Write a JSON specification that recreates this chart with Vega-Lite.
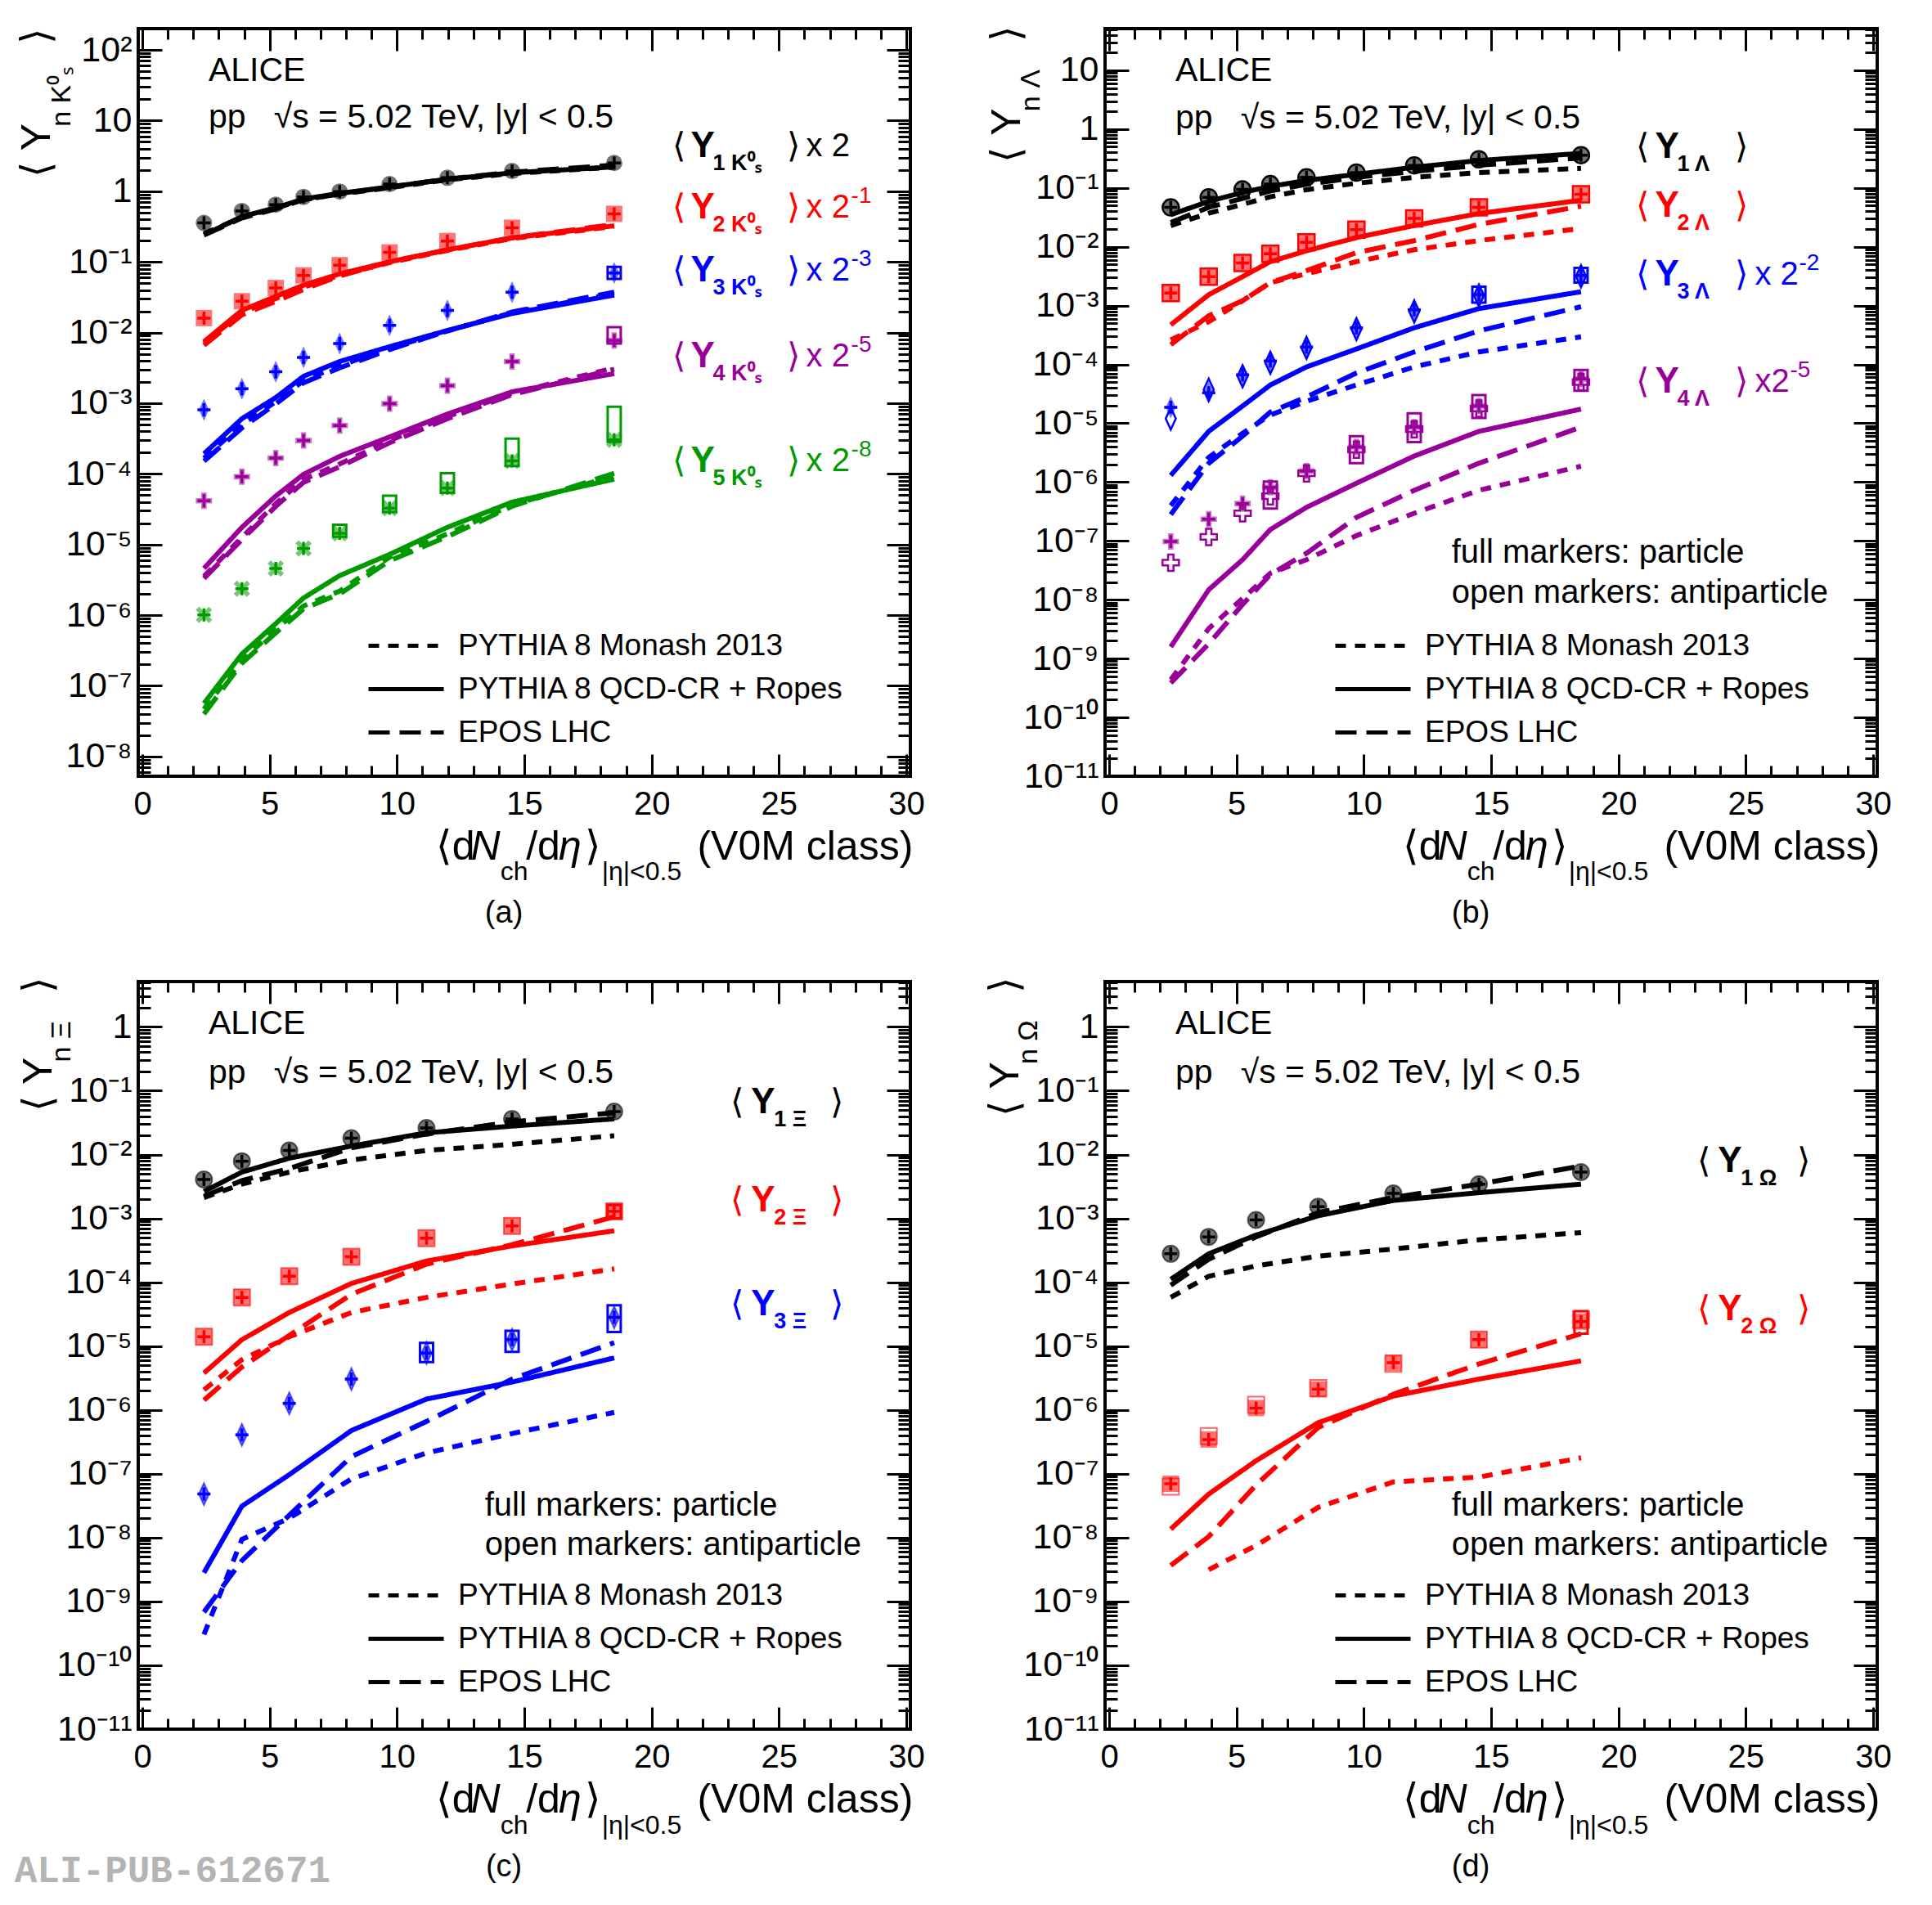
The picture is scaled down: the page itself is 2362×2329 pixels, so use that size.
{
"$schema":"https://vega.github.io/schema/vega-lite/v6.json",
"background":"white",
"padding":{"left":15,"top":12,"right":10,"bottom":16},
"config":{"font":"Liberation Sans","view":{"stroke":"black","strokeWidth":4},
 "axis":{"domain":false,"grid":false,"tickColor":"black","tickWidth":3,"labelColor":"black","labelFont":"Liberation Sans","labelFlush":false,"labelOverlap":false,"labelBound":false},
 "legend":{"labelFont":"Liberation Sans","labelLimit":1000},
 "text":{"color":"black","font":"Liberation Sans"}},
"datasets":{
"A":[
{"n":1,"x":2.42,"d":0.355,"mon":0.251,"cr":0.24,"epos":0.24},
{"n":1,"x":3.91,"d":0.525,"mon":0.427,"cr":0.437,"epos":0.417},
{"n":1,"x":5.24,"d":0.646,"mon":0.575,"cr":0.582,"epos":0.562},
{"n":1,"x":6.33,"d":0.832,"mon":0.759,"cr":0.776,"epos":0.759},
{"n":1,"x":7.75,"d":0.99,"mon":0.912,"cr":0.933,"epos":0.912},
{"n":1,"x":9.71,"d":1.26,"mon":1.12,"cr":1.15,"epos":1.15},
{"n":1,"x":11.98,"d":1.55,"mon":1.45,"cr":1.48,"epos":1.48},
{"n":1,"x":14.52,"d":1.93,"mon":1.78,"cr":1.82,"epos":1.86},
{"n":1,"x":18.53,"d":2.51,"mon":2.19,"cr":2.21,"epos":2.34},
{"n":2,"x":2.42,"d":0.016,"mon":0.00708,"cr":0.00741,"epos":0.00661},
{"n":2,"x":3.91,"d":0.0277,"mon":0.0191,"cr":0.0206,"epos":0.0178},
{"n":2,"x":5.24,"d":0.0427,"mon":0.0302,"cr":0.0324,"epos":0.0275},
{"n":2,"x":6.33,"d":0.0644,"mon":0.0437,"cr":0.0468,"epos":0.0407},
{"n":2,"x":7.75,"d":0.0899,"mon":0.0646,"cr":0.0676,"epos":0.0631},
{"n":2,"x":9.71,"d":0.136,"mon":0.0977,"cr":0.1,"epos":0.1},
{"n":2,"x":11.98,"d":0.197,"mon":0.145,"cr":0.148,"epos":0.148},
{"n":2,"x":14.52,"d":0.304,"mon":0.214,"cr":0.219,"epos":0.219},
{"n":2,"x":18.53,"d":0.478,"mon":0.316,"cr":0.324,"epos":0.339},
{"n":3,"x":2.42,"d":8.05e-4,"mon":1.66e-4,"cr":1.92e-4,"epos":1.51e-4},
{"n":3,"x":3.91,"d":1.6e-3,"mon":5.01e-4,"cr":6.03e-4,"epos":4.47e-4},
{"n":3,"x":5.24,"d":2.78e-3,"mon":1.05e-3,"cr":1.2e-3,"epos":9.77e-4},
{"n":3,"x":6.33,"d":4.45e-3,"mon":2.09e-3,"cr":2.4e-3,"epos":1.95e-3},
{"n":3,"x":7.75,"d":7.0e-3,"mon":3.39e-3,"cr":3.89e-3,"epos":3.16e-3},
{"n":3,"x":9.71,"d":1.26e-2,"mon":6.03e-3,"cr":6.31e-3,"epos":5.75e-3},
{"n":3,"x":11.98,"d":2.06e-2,"mon":1.05e-2,"cr":1.07e-2,"epos":1.05e-2},
{"n":3,"x":14.52,"d":3.72e-2,"mon":1.91e-2,"cr":1.86e-2,"epos":1.95e-2},
{"n":3,"x":18.53,"d":6.97e-2,"mon":3.55e-2,"cr":3.39e-2,"epos":3.72e-2,"lo":5.75e-2,"hi":8.51e-2},
{"n":4,"x":2.42,"d":4.15e-5,"mon":3.55e-6,"cr":4.59e-6,"epos":3.31e-6},
{"n":4,"x":3.91,"d":9.1e-5,"mon":1.26e-5,"cr":1.75e-5,"epos":1.17e-5},
{"n":4,"x":5.24,"d":1.67e-4,"mon":3.8e-5,"cr":4.85e-5,"epos":3.47e-5},
{"n":4,"x":6.33,"d":2.96e-4,"mon":8.32e-5,"cr":9.84e-5,"epos":7.59e-5},
{"n":4,"x":7.75,"d":4.83e-4,"mon":1.38e-4,"cr":1.77e-4,"epos":1.26e-4},
{"n":4,"x":9.71,"d":9.82e-4,"mon":2.95e-4,"cr":3.33e-4,"epos":2.75e-4},
{"n":4,"x":11.98,"d":1.77e-3,"mon":6.46e-4,"cr":7.02e-4,"epos":6.03e-4},
{"n":4,"x":14.52,"d":3.88e-3,"mon":1.38e-3,"cr":1.45e-3,"epos":1.32e-3},
{"n":4,"x":18.53,"d":7.71e-3,"mon":3.16e-3,"cr":2.62e-3,"epos":3.02e-3,"lo":7.0e-3,"hi":1.19e-2},
{"n":5,"x":2.42,"d":1.01e-6,"mon":4.68e-8,"cr":5.64e-8,"epos":3.98e-8},
{"n":5,"x":3.91,"d":2.36e-6,"mon":2.29e-7,"cr":2.82e-7,"epos":2.09e-7},
{"n":5,"x":5.24,"d":4.59e-6,"mon":6.31e-7,"cr":7.59e-7,"epos":5.62e-7},
{"n":5,"x":6.33,"d":8.79e-6,"mon":1.35e-6,"cr":1.75e-6,"epos":1.23e-6},
{"n":5,"x":7.75,"d":1.44e-5,"mon":2.19e-6,"cr":3.63e-6,"epos":2.0e-6,"lo":1.29e-5,"hi":1.91e-5},
{"n":5,"x":9.71,"d":3.27e-5,"mon":6.61e-6,"cr":7.24e-6,"epos":5.89e-6,"lo":2.88e-5,"hi":4.9e-5},
{"n":5,"x":11.98,"d":6.27e-5,"mon":1.41e-5,"cr":1.75e-5,"epos":1.29e-5,"lo":5.37e-5,"hi":1.02e-4},
{"n":5,"x":14.52,"d":1.52e-4,"mon":3.63e-5,"cr":3.98e-5,"epos":3.47e-5,"lo":1.29e-4,"hi":3.16e-4},
{"n":5,"x":18.53,"d":3.02e-4,"mon":9.33e-5,"cr":8.41e-5,"epos":1.02e-4,"lo":2.84e-4,"hi":8.91e-4}],
"B":[
{"n":1,"x":2.42,"d":0.0466,"a":0.0466,"mon":0.0229,"cr":0.0351,"epos":0.0258},
{"n":1,"x":3.91,"d":0.0693,"a":0.0693,"mon":0.0372,"cr":0.0589,"epos":0.0468},
{"n":1,"x":5.24,"d":0.0942,"a":0.0942,"mon":0.0525,"cr":0.0838,"epos":0.0661},
{"n":1,"x":6.33,"d":0.116,"a":0.116,"mon":0.0708,"cr":0.106,"epos":0.0891},
{"n":1,"x":7.75,"d":0.151,"a":0.151,"mon":0.0933,"cr":0.134,"epos":0.115},
{"n":1,"x":9.71,"d":0.182,"a":0.182,"mon":0.12,"cr":0.17,"epos":0.151},
{"n":1,"x":11.98,"d":0.242,"a":0.242,"mon":0.151,"cr":0.225,"epos":0.191},
{"n":1,"x":14.52,"d":0.306,"a":0.306,"mon":0.182,"cr":0.292,"epos":0.242},
{"n":1,"x":18.53,"d":0.361,"a":0.361,"mon":0.215,"cr":0.387,"epos":0.324},
{"n":2,"x":2.42,"d":1.64e-3,"a":1.64e-3,"mon":2.61e-4,"cr":4.71e-4,"epos":2.16e-4},
{"n":2,"x":3.91,"d":3.1e-3,"a":3.1e-3,"mon":5.3e-4,"cr":1.53e-3,"epos":6.7e-4},
{"n":2,"x":5.24,"d":5.32e-3,"a":5.32e-3,"mon":1.21e-3,"cr":3.1e-3,"epos":1.21e-3},
{"n":2,"x":6.33,"d":7.59e-3,"a":7.59e-3,"mon":2.45e-3,"cr":5.58e-3,"epos":2.45e-3},
{"n":2,"x":7.75,"d":1.19e-2,"a":1.19e-2,"mon":3.48e-3,"cr":8.53e-3,"epos":3.92e-3},
{"n":2,"x":9.71,"d":1.95e-2,"a":1.95e-2,"mon":5.58e-3,"cr":1.43e-2,"epos":7.94e-3},
{"n":2,"x":11.98,"d":3.04e-2,"a":3.04e-2,"mon":8.93e-3,"cr":2.29e-2,"epos":1.27e-2},
{"n":2,"x":14.52,"d":4.66e-2,"a":4.66e-2,"mon":1.27e-2,"cr":3.67e-2,"epos":2.4e-2},
{"n":2,"x":18.53,"d":7.82e-2,"a":7.82e-2,"mon":2.04e-2,"cr":6.17e-2,"epos":4.9e-2},
{"n":3,"x":2.42,"d":1.86e-5,"a":1.2e-5,"mon":3.98e-7,"cr":1.3e-6,"epos":2.82e-7},
{"n":3,"x":3.91,"d":3.29e-5,"a":3.72e-5,"mon":2.63e-6,"cr":7.28e-6,"epos":2.09e-6},
{"n":3,"x":5.24,"d":6.67e-5,"a":6.31e-5,"mon":6.76e-6,"cr":1.96e-5,"epos":6.03e-6},
{"n":3,"x":6.33,"d":1.15e-4,"a":1.07e-4,"mon":1.38e-5,"cr":4.47e-5,"epos":1.55e-5},
{"n":3,"x":7.75,"d":1.97e-4,"a":1.91e-4,"mon":2.36e-5,"cr":9.06e-5,"epos":2.79e-5},
{"n":3,"x":9.71,"d":4.19e-4,"a":3.98e-4,"mon":4.47e-5,"cr":1.83e-4,"epos":7.14e-5},
{"n":3,"x":11.98,"d":8.47e-4,"a":7.94e-4,"mon":9.06e-5,"cr":4.19e-4,"epos":1.63e-4},
{"n":3,"x":14.52,"d":1.53e-3,"a":1.48e-3,"mon":1.63e-4,"cr":8.89e-4,"epos":3.72e-4,"lo":1.12e-3,"hi":2.09e-3},
{"n":3,"x":18.53,"d":3.24e-3,"a":3.16e-3,"mon":2.94e-4,"cr":1.72e-3,"epos":9.55e-4,"lo":2.45e-3,"hi":4.37e-3},
{"n":4,"x":2.42,"d":9.77e-8,"a":4.27e-8,"mon":4.37e-10,"cr":1.58e-9,"epos":3.85e-10},
{"n":4,"x":3.91,"d":2.34e-7,"a":1.17e-7,"mon":3.24e-9,"cr":1.48e-8,"epos":1.78e-9},
{"n":4,"x":5.24,"d":4.31e-7,"a":2.95e-7,"mon":1.05e-8,"cr":4.79e-8,"epos":8.32e-9},
{"n":4,"x":6.33,"d":8.13e-7,"a":5.75e-7,"mon":2.82e-8,"cr":1.56e-7,"epos":2.69e-8,"lo":3.55e-7,"hi":1.02e-6},
{"n":4,"x":7.75,"d":1.54e-6,"a":1.41e-6,"mon":4.79e-8,"cr":3.72e-7,"epos":6.17e-8},
{"n":4,"x":9.71,"d":3.94e-6,"a":3.55e-6,"mon":1.23e-7,"cr":9.55e-7,"epos":2.51e-7,"lo":2.09e-6,"hi":6.03e-6},
{"n":4,"x":11.98,"d":8.59e-6,"a":7.94e-6,"mon":2.95e-7,"cr":2.77e-6,"epos":7.24e-7,"lo":4.79e-6,"hi":1.48e-5},
{"n":4,"x":14.52,"d":1.96e-5,"a":1.78e-5,"mon":7.24e-7,"cr":7.28e-6,"epos":2.09e-6,"lo":1.23e-5,"hi":3.02e-5},
{"n":4,"x":18.53,"d":5.65e-5,"a":5.01e-5,"mon":1.86e-6,"cr":1.74e-5,"epos":8.59e-6,"lo":3.55e-5,"hi":8.04e-5}],
"C":[
{"n":1,"x":2.42,"d":4.08e-3,"a":4.08e-3,"mon":2.12e-3,"cr":2.64e-3,"epos":2.22e-3},
{"n":1,"x":3.91,"d":7.87e-3,"a":7.87e-3,"mon":3.44e-3,"cr":5.31e-3,"epos":3.91e-3},
{"n":1,"x":5.77,"d":1.16e-2,"a":1.16e-2,"mon":5.31e-3,"cr":8.77e-3,"epos":6.05e-3},
{"n":1,"x":8.21,"d":1.8e-2,"a":1.8e-2,"mon":8.22e-3,"cr":1.36e-2,"epos":1.27e-2},
{"n":1,"x":11.16,"d":2.61e-2,"a":2.61e-2,"mon":1.16e-2,"cr":2.19e-2,"epos":2.1e-2},
{"n":1,"x":14.52,"d":3.62e-2,"a":3.62e-2,"mon":1.45e-2,"cr":2.79e-2,"epos":3.25e-2},
{"n":1,"x":18.53,"d":4.71e-2,"a":4.71e-2,"mon":1.97e-2,"cr":3.62e-2,"epos":4.51e-2},
{"n":2,"x":2.42,"d":1.4e-5,"a":1.4e-5,"mon":2.06e-6,"cr":3.78e-6,"epos":1.42e-6},
{"n":2,"x":3.91,"d":5.79e-5,"a":5.79e-5,"mon":6.12e-6,"cr":1.26e-5,"epos":4.71e-6},
{"n":2,"x":5.77,"d":1.24e-4,"a":1.24e-4,"mon":1.4e-5,"cr":3.36e-5,"epos":1.47e-5},
{"n":2,"x":8.21,"d":2.5e-4,"a":2.5e-4,"mon":3.36e-5,"cr":9.57e-5,"epos":6.46e-5},
{"n":2,"x":11.16,"d":4.92e-4,"a":4.92e-4,"mon":5.79e-5,"cr":2.15e-4,"epos":1.92e-4},
{"n":2,"x":14.52,"d":7.62e-4,"a":7.62e-4,"mon":9.38e-5,"cr":3.71e-4,"epos":3.87e-4},
{"n":2,"x":18.53,"d":1.29e-3,"a":1.29e-3,"mon":1.62e-4,"cr":6.4e-4,"epos":1.06e-3,"lo":1.0e-3,"hi":1.62e-3},
{"n":3,"x":2.42,"d":4.81e-8,"a":4.81e-8,"mon":3.04e-10,"cr":2.82e-9,"epos":6.82e-10},
{"n":3,"x":3.91,"d":4.08e-7,"a":4.08e-7,"mon":9.37e-9,"cr":3.11e-8,"epos":4.37e-9},
{"n":3,"x":5.77,"d":1.27e-6,"a":1.27e-6,"mon":2.01e-8,"cr":9.68e-8,"epos":2.24e-8},
{"n":3,"x":8.21,"d":3.04e-6,"a":3.04e-6,"mon":8.3e-8,"cr":4.76e-7,"epos":1.86e-7},
{"n":3,"x":11.16,"d":7.78e-6,"a":7.78e-6,"mon":2.12e-7,"cr":1.48e-6,"epos":6.61e-7,"lo":5.62e-6,"hi":1.12e-5},
{"n":3,"x":14.52,"d":1.26e-5,"a":1.26e-5,"mon":4.27e-7,"cr":2.73e-6,"epos":3.04e-6,"lo":8.13e-6,"hi":1.74e-5},
{"n":3,"x":18.53,"d":2.82e-5,"a":2.82e-5,"mon":9.16e-7,"cr":6.53e-6,"epos":1.13e-5,"lo":1.66e-5,"hi":4.37e-5}],
"D":[
{"n":1,"x":2.42,"d":2.79e-4,"a":2.79e-4,"mon":5.79e-5,"cr":1.11e-4,"epos":8.97e-5},
{"n":1,"x":3.91,"d":5.14e-4,"a":5.14e-4,"mon":1.24e-4,"cr":2.79e-4,"epos":2.29e-4},
{"n":1,"x":5.77,"d":9.46e-4,"a":9.46e-4,"mon":1.8e-4,"cr":5.48e-4,"epos":5.14e-4},
{"n":1,"x":8.21,"d":1.53e-3,"a":1.53e-3,"mon":2.56e-4,"cr":1.1e-3,"epos":1.23e-3},
{"n":1,"x":11.16,"d":2.47e-3,"a":2.47e-3,"mon":3.32e-4,"cr":1.91e-3,"epos":2.12e-3},
{"n":1,"x":14.52,"d":3.44e-3,"a":3.44e-3,"mon":4.61e-4,"cr":2.53e-3,"epos":3.44e-3},
{"n":1,"x":18.53,"d":5.31e-3,"a":5.31e-3,"mon":5.98e-4,"cr":3.44e-3,"epos":6.61e-3},
{"n":2,"x":2.42,"d":6.98e-8,"a":6.3e-8,"mon":null,"cr":1.36e-8,"epos":3.66e-9},
{"n":2,"x":3.91,"d":3.44e-7,"a":3.9e-7,"mon":3.14e-9,"cr":4.81e-8,"epos":1.04e-8},
{"n":2,"x":5.77,"d":1.07e-6,"a":1.2e-6,"mon":7.53e-9,"cr":1.6e-7,"epos":6.68e-8},
{"n":2,"x":8.21,"d":2.1e-6,"a":2.2e-6,"mon":2.98e-8,"cr":6.32e-7,"epos":5.31e-7},
{"n":2,"x":11.16,"d":5.48e-6,"a":5.3e-6,"mon":7.45e-8,"cr":1.65e-6,"epos":1.76e-6},
{"n":2,"x":14.52,"d":1.26e-5,"a":1.26e-5,"mon":8.87e-8,"cr":3.04e-6,"epos":5.25e-6},
{"n":2,"x":18.53,"d":2.42e-5,"a":2.6e-5,"mon":1.78e-7,"cr":5.86e-6,"epos":1.56e-5,"lo":1.56e-5,"hi":3.51e-5}],
"LA":[
{"n":1,"y":4.3,"sub":"1  K⁰ₛ","mult":"x 2","sup":""},
{"n":2,"y":0.58,"sub":"2  K⁰ₛ","mult":"x 2","sup":"-1"},
{"n":3,"y":0.074,"sub":"3  K⁰ₛ","mult":"x 2","sup":"-3"},
{"n":4,"y":4.5e-3,"sub":"4  K⁰ₛ","mult":"x 2","sup":"-5"},
{"n":5,"y":1.5e-4,"sub":"5  K⁰ₛ","mult":"x 2","sup":"-8"}],
"LB":[
{"n":1,"y":0.49,"sub":"1 Λ","mult":"","sup":""},
{"n":2,"y":0.049,"sub":"2 Λ","mult":"","sup":""},
{"n":3,"y":3.3e-3,"sub":"3 Λ","mult":"x 2","sup":"-2"},
{"n":4,"y":5.0e-5,"sub":"4 Λ","mult":"x2","sup":"-5"}],
"LC":[
{"n":1,"y":0.065,"sub":"1 Ξ"},
{"n":2,"y":1.9e-3,"sub":"2 Ξ"},
{"n":3,"y":4.5e-5,"sub":"3 Ξ"}],
"LD":[
{"n":1,"y":7.9e-3,"sub":"1 Ω"},
{"n":2,"y":3.7e-5,"sub":"2 Ω"}],
"XT":[
{"t":"⟨d","x":11.52,"k":"m"},{"t":"N","x":12.9,"k":"i"},{"t":"ch","x":14.06,"k":"s"},{"t":"/d","x":15.07,"k":"m"},
{"t":"η","x":16.35,"k":"i"},{"t":"⟩","x":17.39,"k":"m"},{"t":"|η|<0.5","x":18.04,"k":"s"},{"t":"(V0M class)","x":21.79,"k":"m"}]
},
"columns":2,
"bounds":"flush",
"spacing":{"row":251,"column":238},
"resolve":{"scale":{"x":"independent","y":"independent","color":"independent","shape":"independent","strokeDash":"independent"},
 "legend":{"strokeDash":"independent","color":"independent","shape":"independent"},
 "axis":{"x":"independent","y":"independent"}},
"concat":[
{"width":944,"height":914,"resolve":{"axis":{"x":"independent","y":"independent"}},
 "layer":[
 {"data":{"name":"A"},"transform":[{"fold":["mon","cr","epos"],"as":["m","v"]}],"mark":{"type":"line","strokeWidth":6},
  "encoding":{"x":{"field":"x","type":"quantitative","scale":{"domain":[0,30],"nice":false,"zero":false},
    "axis":{"orient":"bottom","values":[0,1,2,3,4,5,6,7,8,9,10,11,12,13,14,15,16,17,18,19,20,21,22,23,24,25,26,27,28,29,30],"labelExpr":"datum.value % 5 == 0 ? format(datum.value, 'd') : ''","tickSize":{"condition":{"test":"datum.value % 5 == 0","value":-27},"value":-13},"labelFontSize":40,"labelPadding":41,"title":null}},
   "y":{"field":"v","type":"quantitative","scale":{"type":"log","domain":[5.25e-9,200],"nice":false},
    "axis":{"orient":"left","values":[6e-9,7e-9,8e-9,9e-9,1e-8,2e-8,3e-8,4e-8,5e-8,6e-8,7e-8,8e-8,9e-8,1e-7,2e-7,3e-7,4e-7,5e-7,6e-7,7e-7,8e-7,9e-7,1e-6,2e-6,3e-6,4e-6,5e-6,6e-6,7e-6,8e-6,9e-6,1e-5,2e-5,3e-5,4e-5,5e-5,6e-5,7e-5,8e-5,9e-5,1e-4,2e-4,3e-4,4e-4,5e-4,6e-4,7e-4,8e-4,9e-4,1e-3,2e-3,3e-3,4e-3,5e-3,6e-3,7e-3,8e-3,9e-3,1e-2,2e-2,3e-2,4e-2,5e-2,6e-2,7e-2,8e-2,9e-2,0.1,0.2,0.3,0.4,0.5,0.6,0.7,0.8,0.9,1,2,3,4,5,6,7,8,9,10,20,30,40,50,60,70,80,90,100],
     "labelExpr":"abs(log(datum.value)/LN10-round(log(datum.value)/LN10))>0.01 ? '' : round(log(datum.value)/LN10)==0 ? '1' : round(log(datum.value)/LN10)==1 ? '10' : '10'+(datum.value<1 ? '⁻' : '')+['⁰','¹','²','³','⁴','⁵','⁶','⁷','⁸','⁹','¹⁰','¹¹'][abs(round(log(datum.value)/LN10))]","tickSize":{"condition":{"test":"abs(log(datum.value)/LN10-round(log(datum.value)/LN10))<0.01","value":-29},"value":-15},"labelFontSize":43,"labelPadding":37,"title":null}},
   "color":{"field":"n","type":"nominal","scale":{"domain":[1,2,3,4,5],"range":["#000000","#ff0000","#0000ff","#990099","#009900"]},"legend":null},
   "strokeDash":{"field":"m","type":"nominal","scale":{"domain":["mon","cr","epos"],"range":[[13,11],[1,0],[26,12]]},
    "legend":{"orient":"none","legendX":309,"legendY":736,"title":null,"symbolType":"M-4.6,0H4.6","symbolSize":400,"symbolStrokeWidth":5,"symbolStrokeColor":"black","labelFontSize":37,"labelColor":"black","labelOffset":45,"rowPadding":15,"padding":0,
     "labelExpr":"datum.label == 'mon' ? 'PYTHIA 8 Monash 2013' : datum.label == 'cr' ? 'PYTHIA 8 QCD-CR + Ropes' : 'EPOS LHC'"}}}},
 {"data":{"name":"A"},"transform":[{"filter":"isValid(datum.lo)"}],"mark":{"type":"bar","filled":false,"width":16,"strokeWidth":3},
  "encoding":{"x":{"field":"x","type":"quantitative","axis":{"orient":"top","values":[0,1,2,3,4,5,6,7,8,9,10,11,12,13,14,15,16,17,18,19,20,21,22,23,24,25,26,27,28,29,30],"labels":false,"tickSize":{"condition":{"test":"datum.value % 5 == 0","value":-27},"value":-13},"title":null}},
   "y":{"field":"lo","type":"quantitative","axis":{"orient":"right","values":[6e-9,7e-9,8e-9,9e-9,1e-8,2e-8,3e-8,4e-8,5e-8,6e-8,7e-8,8e-8,9e-8,1e-7,2e-7,3e-7,4e-7,5e-7,6e-7,7e-7,8e-7,9e-7,1e-6,2e-6,3e-6,4e-6,5e-6,6e-6,7e-6,8e-6,9e-6,1e-5,2e-5,3e-5,4e-5,5e-5,6e-5,7e-5,8e-5,9e-5,1e-4,2e-4,3e-4,4e-4,5e-4,6e-4,7e-4,8e-4,9e-4,1e-3,2e-3,3e-3,4e-3,5e-3,6e-3,7e-3,8e-3,9e-3,1e-2,2e-2,3e-2,4e-2,5e-2,6e-2,7e-2,8e-2,9e-2,0.1,0.2,0.3,0.4,0.5,0.6,0.7,0.8,0.9,1,2,3,4,5,6,7,8,9,10,20,30,40,50,60,70,80,90,100],"labels":false,"tickSize":{"condition":{"test":"abs(log(datum.value)/LN10-round(log(datum.value)/LN10))<0.01","value":-29},"value":-15},"title":null}},
   "y2":{"field":"hi"},"color":{"field":"n","type":"nominal","legend":null}}},
 {"data":{"name":"A"},"mark":{"type":"point","filled":true,"opacity":1,"fillOpacity":0.55,"strokeWidth":0,"size":400},
  "encoding":{"x":{"field":"x","type":"quantitative","axis":null},"y":{"field":"d","type":"quantitative","axis":null},"color":{"field":"n","type":"nominal","legend":null},
   "shape":{"field":"n","type":"nominal","scale":{"domain":[1,2,3,4,5],"range":["circle","square","M0,-1.35L0.62,0L0,1.35L-0.62,0Z","M-0.33,-1H0.33V-0.33H1V0.33H0.33V1H-0.33V0.33H-1V-0.33H-0.33Z","M-1,-0.6L-0.6,-1L0,-0.4L0.6,-1L1,-0.6L0.4,0L1,0.6L0.6,1L0,0.4L-0.6,1L-1,0.6L-0.4,0Z"]},"legend":null}}},
 {"data":{"name":"A"},"mark":{"type":"point","filled":false,"opacity":1,"shape":"M-1,0H1M0,-1V1","size":256,"strokeWidth":3.5},
  "encoding":{"x":{"field":"x","type":"quantitative","axis":null},"y":{"field":"d","type":"quantitative","axis":null},"color":{"field":"n","type":"nominal","legend":null}}},
 {"data":{"name":"LA"},"mark":{"type":"text","text":"⟨","align":"left","baseline":"middle","fontSize":42},"encoding":{"x":{"datum":20.8,"type":"quantitative","axis":null},"y":{"field":"y","type":"quantitative","axis":null},"color":{"field":"n","type":"nominal","legend":null}}},
 {"data":{"name":"LA"},"mark":{"type":"text","text":"Y","align":"left","baseline":"middle","fontSize":44,"fontWeight":"bold","dx":23},"encoding":{"x":{"datum":20.8,"type":"quantitative","axis":null},"y":{"field":"y","type":"quantitative","axis":null},"color":{"field":"n","type":"nominal","legend":null}}},
 {"data":{"name":"LA"},"mark":{"type":"text","align":"left","baseline":"middle","fontSize":27,"fontWeight":"bold","dx":50,"dy":21},"encoding":{"x":{"datum":20.8,"type":"quantitative","axis":null},"y":{"field":"y","type":"quantitative","axis":null},"color":{"field":"n","type":"nominal","legend":null},"text":{"field":"sub","type":"nominal"}}},
 {"data":{"name":"LA"},"mark":{"type":"text","text":"⟩","align":"left","baseline":"middle","fontSize":42,"dx":140},"encoding":{"x":{"datum":20.8,"type":"quantitative","axis":null},"y":{"field":"y","type":"quantitative","axis":null},"color":{"field":"n","type":"nominal","legend":null}}},
 {"data":{"name":"LA"},"mark":{"type":"text","align":"left","baseline":"middle","fontSize":40,"dx":164},"encoding":{"x":{"datum":20.8,"type":"quantitative","axis":null},"y":{"field":"y","type":"quantitative","axis":null},"color":{"field":"n","type":"nominal","legend":null},"text":{"field":"mult","type":"nominal"}}},
 {"data":{"name":"LA"},"mark":{"type":"text","align":"left","baseline":"middle","fontSize":28,"dx":219,"dy":-14},"encoding":{"x":{"datum":20.8,"type":"quantitative","axis":null},"y":{"field":"y","type":"quantitative","axis":null},"color":{"field":"n","type":"nominal","legend":null},"text":{"field":"sup","type":"nominal"}}},
 {"data":{"values":[{}]},"mark":{"type":"text","text":"ALICE","align":"left","baseline":"middle","fontSize":41},"encoding":{"x":{"datum":2.6,"type":"quantitative","axis":null},"y":{"datum":50,"type":"quantitative","axis":null}}},
 {"data":{"values":[{}]},"mark":{"type":"text","text":"pp\u00a0\u00a0\u00a0√s = 5.02 TeV, |y| < 0.5","align":"left","baseline":"middle","fontSize":41},"encoding":{"x":{"datum":2.6,"type":"quantitative","axis":null},"y":{"datum":10.8,"type":"quantitative","axis":null}}},
 {"data":{"values":[{}]},"mark":{"type":"text","text":"⟨ Y","angle":270,"align":"left","baseline":"middle","fontSize":50},"encoding":{"x":{"datum":-4.1,"type":"quantitative","axis":null},"y":{"datum":1.55,"type":"quantitative","axis":null}}},
 {"data":{"values":[{}]},"mark":{"type":"text","text":"n  K⁰ₛ","angle":270,"align":"left","baseline":"middle","fontSize":34},"encoding":{"x":{"datum":-3.14,"type":"quantitative","axis":null},"y":{"datum":8.2,"type":"quantitative","axis":null}}},
 {"data":{"values":[{}]},"mark":{"type":"text","text":"⟩","angle":270,"align":"left","baseline":"middle","fontSize":50},"encoding":{"x":{"datum":-4.1,"type":"quantitative","axis":null},"y":{"datum":122,"type":"quantitative","axis":null}}},
 {"data":{"name":"XT"},"transform":[{"filter":"datum.k=='m'"}],"mark":{"type":"text","align":"left","baseline":"middle","fontSize":50},"encoding":{"x":{"field":"x","type":"quantitative","axis":null},"y":{"datum":5.2e-10,"type":"quantitative","axis":null},"text":{"field":"t","type":"nominal"}}},
 {"data":{"name":"XT"},"transform":[{"filter":"datum.k=='i'"}],"mark":{"type":"text","align":"left","baseline":"middle","fontSize":50,"fontStyle":"italic"},"encoding":{"x":{"field":"x","type":"quantitative","axis":null},"y":{"datum":5.2e-10,"type":"quantitative","axis":null},"text":{"field":"t","type":"nominal"}}},
 {"data":{"name":"XT"},"transform":[{"filter":"datum.k=='s'"}],"mark":{"type":"text","align":"left","baseline":"middle","fontSize":32},"encoding":{"x":{"field":"x","type":"quantitative","axis":null},"y":{"datum":2.3e-10,"type":"quantitative","axis":null},"text":{"field":"t","type":"nominal"}}},
 {"data":{"values":[{}]},"mark":{"type":"text","text":"(a)","align":"center","baseline":"middle","fontSize":38},"encoding":{"x":{"datum":14.2,"type":"quantitative","axis":null},"y":{"datum":6.0e-11,"type":"quantitative","axis":null}}}
 ]},
{"width":944,"height":914,"resolve":{"axis":{"x":"independent","y":"independent"}},
 "layer":[
 {"data":{"name":"B"},"transform":[{"fold":["mon","cr","epos"],"as":["m","v"]}],"mark":{"type":"line","strokeWidth":6},
  "encoding":{"x":{"field":"x","type":"quantitative","scale":{"domain":[0,30],"nice":false,"zero":false},
    "axis":{"orient":"bottom","values":[0,1,2,3,4,5,6,7,8,9,10,11,12,13,14,15,16,17,18,19,20,21,22,23,24,25,26,27,28,29,30],"labelExpr":"datum.value % 5 == 0 ? format(datum.value, 'd') : ''","tickSize":{"condition":{"test":"datum.value % 5 == 0","value":-27},"value":-13},"labelFontSize":40,"labelPadding":41,"title":null}},
   "y":{"field":"v","type":"quantitative","scale":{"type":"log","domain":[1e-11,51],"nice":false},
    "axis":{"orient":"left","values":[1e-11,2e-11,3e-11,4e-11,5e-11,6e-11,7e-11,8e-11,9e-11,1e-10,2e-10,3e-10,4e-10,5e-10,6e-10,7e-10,8e-10,9e-10,1e-9,2e-9,3e-9,4e-9,5e-9,6e-9,7e-9,8e-9,9e-9,1e-8,2e-8,3e-8,4e-8,5e-8,6e-8,7e-8,8e-8,9e-8,1e-7,2e-7,3e-7,4e-7,5e-7,6e-7,7e-7,8e-7,9e-7,1e-6,2e-6,3e-6,4e-6,5e-6,6e-6,7e-6,8e-6,9e-6,1e-5,2e-5,3e-5,4e-5,5e-5,6e-5,7e-5,8e-5,9e-5,1e-4,2e-4,3e-4,4e-4,5e-4,6e-4,7e-4,8e-4,9e-4,1e-3,2e-3,3e-3,4e-3,5e-3,6e-3,7e-3,8e-3,9e-3,1e-2,2e-2,3e-2,4e-2,5e-2,6e-2,7e-2,8e-2,9e-2,0.1,0.2,0.3,0.4,0.5,0.6,0.7,0.8,0.9,1,2,3,4,5,6,7,8,9,10,20,30,40,50],
     "labelExpr":"abs(log(datum.value)/LN10-round(log(datum.value)/LN10))>0.01 ? '' : round(log(datum.value)/LN10)==0 ? '1' : round(log(datum.value)/LN10)==1 ? '10' : '10'+(datum.value<1 ? '⁻' : '')+['⁰','¹','²','³','⁴','⁵','⁶','⁷','⁸','⁹','¹⁰','¹¹'][abs(round(log(datum.value)/LN10))]","tickSize":{"condition":{"test":"abs(log(datum.value)/LN10-round(log(datum.value)/LN10))<0.01","value":-29},"value":-15},"labelFontSize":43,"labelPadding":37,"title":null}},
   "color":{"field":"n","type":"nominal","scale":{"domain":[1,2,3,4,5],"range":["#000000","#ff0000","#0000ff","#990099","#009900"]},"legend":null},
   "strokeDash":{"field":"m","type":"nominal","scale":{"domain":["mon","cr","epos"],"range":[[13,11],[1,0],[26,12]]},
    "legend":{"orient":"none","legendX":309,"legendY":736,"title":null,"symbolType":"M-4.6,0H4.6","symbolSize":400,"symbolStrokeWidth":5,"symbolStrokeColor":"black","labelFontSize":37,"labelColor":"black","labelOffset":45,"rowPadding":15,"padding":0,
     "labelExpr":"datum.label == 'mon' ? 'PYTHIA 8 Monash 2013' : datum.label == 'cr' ? 'PYTHIA 8 QCD-CR + Ropes' : 'EPOS LHC'"}}}},
 {"data":{"name":"B"},"transform":[{"filter":"isValid(datum.lo)"}],"mark":{"type":"bar","filled":false,"width":16,"strokeWidth":3},
  "encoding":{"x":{"field":"x","type":"quantitative","axis":{"orient":"top","values":[0,1,2,3,4,5,6,7,8,9,10,11,12,13,14,15,16,17,18,19,20,21,22,23,24,25,26,27,28,29,30],"labels":false,"tickSize":{"condition":{"test":"datum.value % 5 == 0","value":-27},"value":-13},"title":null}},
   "y":{"field":"lo","type":"quantitative","axis":{"orient":"right","values":[1e-11,2e-11,3e-11,4e-11,5e-11,6e-11,7e-11,8e-11,9e-11,1e-10,2e-10,3e-10,4e-10,5e-10,6e-10,7e-10,8e-10,9e-10,1e-9,2e-9,3e-9,4e-9,5e-9,6e-9,7e-9,8e-9,9e-9,1e-8,2e-8,3e-8,4e-8,5e-8,6e-8,7e-8,8e-8,9e-8,1e-7,2e-7,3e-7,4e-7,5e-7,6e-7,7e-7,8e-7,9e-7,1e-6,2e-6,3e-6,4e-6,5e-6,6e-6,7e-6,8e-6,9e-6,1e-5,2e-5,3e-5,4e-5,5e-5,6e-5,7e-5,8e-5,9e-5,1e-4,2e-4,3e-4,4e-4,5e-4,6e-4,7e-4,8e-4,9e-4,1e-3,2e-3,3e-3,4e-3,5e-3,6e-3,7e-3,8e-3,9e-3,1e-2,2e-2,3e-2,4e-2,5e-2,6e-2,7e-2,8e-2,9e-2,0.1,0.2,0.3,0.4,0.5,0.6,0.7,0.8,0.9,1,2,3,4,5,6,7,8,9,10,20,30,40,50],"labels":false,"tickSize":{"condition":{"test":"abs(log(datum.value)/LN10-round(log(datum.value)/LN10))<0.01","value":-29},"value":-15},"title":null}},
   "y2":{"field":"hi"},"color":{"field":"n","type":"nominal","legend":null}}},
 {"data":{"name":"B"},"mark":{"type":"point","filled":true,"opacity":1,"fillOpacity":0.55,"strokeWidth":0,"size":400},
  "encoding":{"x":{"field":"x","type":"quantitative","axis":null},"y":{"field":"d","type":"quantitative","axis":null},"color":{"field":"n","type":"nominal","legend":null},
   "shape":{"field":"n","type":"nominal","scale":{"domain":[1,2,3,4,5],"range":["circle","square","M0,-1.35L0.62,0L0,1.35L-0.62,0Z","M-0.33,-1H0.33V-0.33H1V0.33H0.33V1H-0.33V0.33H-1V-0.33H-0.33Z","M-1,-0.6L-0.6,-1L0,-0.4L0.6,-1L1,-0.6L0.4,0L1,0.6L0.6,1L0,0.4L-0.6,1L-1,0.6L-0.4,0Z"]},"legend":null}}},
 {"data":{"name":"B"},"transform":[{"filter":"isValid(datum.a)"}],"mark":{"type":"point","filled":false,"opacity":1,"strokeWidth":2.5,"size":400},
  "encoding":{"x":{"field":"x","type":"quantitative","axis":null},"y":{"field":"a","type":"quantitative","axis":null},"color":{"field":"n","type":"nominal","legend":null},"shape":{"field":"n","type":"nominal","legend":null}}},
 {"data":{"name":"B"},"mark":{"type":"point","filled":false,"opacity":1,"shape":"M-1,0H1M0,-1V1","size":256,"strokeWidth":3.5},
  "encoding":{"x":{"field":"x","type":"quantitative","axis":null},"y":{"field":"d","type":"quantitative","axis":null},"color":{"field":"n","type":"nominal","legend":null}}},
 {"data":{"name":"LB"},"mark":{"type":"text","text":"⟨","align":"left","baseline":"middle","fontSize":42},"encoding":{"x":{"datum":20.7,"type":"quantitative","axis":null},"y":{"field":"y","type":"quantitative","axis":null},"color":{"field":"n","type":"nominal","legend":null}}},
 {"data":{"name":"LB"},"mark":{"type":"text","text":"Y","align":"left","baseline":"middle","fontSize":44,"fontWeight":"bold","dx":23},"encoding":{"x":{"datum":20.7,"type":"quantitative","axis":null},"y":{"field":"y","type":"quantitative","axis":null},"color":{"field":"n","type":"nominal","legend":null}}},
 {"data":{"name":"LB"},"mark":{"type":"text","align":"left","baseline":"middle","fontSize":27,"fontWeight":"bold","dx":50,"dy":21},"encoding":{"x":{"datum":20.7,"type":"quantitative","axis":null},"y":{"field":"y","type":"quantitative","axis":null},"color":{"field":"n","type":"nominal","legend":null},"text":{"field":"sub","type":"nominal"}}},
 {"data":{"name":"LB"},"mark":{"type":"text","text":"⟩","align":"left","baseline":"middle","fontSize":42,"dx":121},"encoding":{"x":{"datum":20.7,"type":"quantitative","axis":null},"y":{"field":"y","type":"quantitative","axis":null},"color":{"field":"n","type":"nominal","legend":null}}},
 {"data":{"name":"LB"},"mark":{"type":"text","align":"left","baseline":"middle","fontSize":40,"dx":145},"encoding":{"x":{"datum":20.7,"type":"quantitative","axis":null},"y":{"field":"y","type":"quantitative","axis":null},"color":{"field":"n","type":"nominal","legend":null},"text":{"field":"mult","type":"nominal"}}},
 {"data":{"name":"LB"},"transform":[{"filter":"datum.mult == 'x 2'"}],"mark":{"type":"text","align":"left","baseline":"middle","fontSize":28,"dx":199,"dy":-14},"encoding":{"x":{"datum":20.7,"type":"quantitative","axis":null},"y":{"field":"y","type":"quantitative","axis":null},"color":{"field":"n","type":"nominal","legend":null},"text":{"field":"sup","type":"nominal"}}},
 {"data":{"name":"LB"},"transform":[{"filter":"datum.mult == 'x2'"}],"mark":{"type":"text","align":"left","baseline":"middle","fontSize":28,"dx":188,"dy":-14},"encoding":{"x":{"datum":20.7,"type":"quantitative","axis":null},"y":{"field":"y","type":"quantitative","axis":null},"color":{"field":"n","type":"nominal","legend":null},"text":{"field":"sup","type":"nominal"}}},
 {"data":{"values":[{}]},"mark":{"type":"text","text":"ALICE","align":"left","baseline":"middle","fontSize":41},"encoding":{"x":{"datum":2.6,"type":"quantitative","axis":null},"y":{"datum":9.8,"type":"quantitative","axis":null}}},
 {"data":{"values":[{}]},"mark":{"type":"text","text":"pp\u00a0\u00a0\u00a0√s = 5.02 TeV, |y| < 0.5","align":"left","baseline":"middle","fontSize":41},"encoding":{"x":{"datum":2.6,"type":"quantitative","axis":null},"y":{"datum":1.5,"type":"quantitative","axis":null}}},
 {"data":{"values":[{}]},"mark":{"type":"text","text":"full markers: particle","align":"left","baseline":"middle","fontSize":40},"encoding":{"x":{"datum":13.45,"type":"quantitative","axis":null},"y":{"datum":6.2e-8,"type":"quantitative","axis":null}}},
 {"data":{"values":[{}]},"mark":{"type":"text","text":"open markers: antiparticle","align":"left","baseline":"middle","fontSize":40},"encoding":{"x":{"datum":13.45,"type":"quantitative","axis":null},"y":{"datum":1.3e-8,"type":"quantitative","axis":null}}},
 {"data":{"values":[{}]},"mark":{"type":"text","text":"⟨ Y","angle":270,"align":"left","baseline":"middle","fontSize":50},"encoding":{"x":{"datum":-3.98,"type":"quantitative","axis":null},"y":{"datum":0.27,"type":"quantitative","axis":null}}},
 {"data":{"values":[{}]},"mark":{"type":"text","text":"n Λ","angle":270,"align":"left","baseline":"middle","fontSize":34},"encoding":{"x":{"datum":-3.06,"type":"quantitative","axis":null},"y":{"datum":2.0,"type":"quantitative","axis":null}}},
 {"data":{"values":[{}]},"mark":{"type":"text","text":"⟩","angle":270,"align":"left","baseline":"middle","fontSize":50},"encoding":{"x":{"datum":-3.98,"type":"quantitative","axis":null},"y":{"datum":31,"type":"quantitative","axis":null}}},
 {"data":{"name":"XT"},"transform":[{"filter":"datum.k=='m'"}],"mark":{"type":"text","align":"left","baseline":"middle","fontSize":50},"encoding":{"x":{"field":"x","type":"quantitative","axis":null},"y":{"datum":6.2e-13,"type":"quantitative","axis":null},"text":{"field":"t","type":"nominal"}}},
 {"data":{"name":"XT"},"transform":[{"filter":"datum.k=='i'"}],"mark":{"type":"text","align":"left","baseline":"middle","fontSize":50,"fontStyle":"italic"},"encoding":{"x":{"field":"x","type":"quantitative","axis":null},"y":{"datum":6.2e-13,"type":"quantitative","axis":null},"text":{"field":"t","type":"nominal"}}},
 {"data":{"name":"XT"},"transform":[{"filter":"datum.k=='s'"}],"mark":{"type":"text","align":"left","baseline":"middle","fontSize":32},"encoding":{"x":{"field":"x","type":"quantitative","axis":null},"y":{"datum":2.35e-13,"type":"quantitative","axis":null},"text":{"field":"t","type":"nominal"}}},
 {"data":{"values":[{}]},"mark":{"type":"text","text":"(b)","align":"center","baseline":"middle","fontSize":38},"encoding":{"x":{"datum":14.2,"type":"quantitative","axis":null},"y":{"datum":4.6e-14,"type":"quantitative","axis":null}}}
 ]},
{"width":944,"height":914,"resolve":{"axis":{"x":"independent","y":"independent"}},
 "layer":[
 {"data":{"name":"C"},"transform":[{"fold":["mon","cr","epos"],"as":["m","v"]}],"mark":{"type":"line","strokeWidth":6},
  "encoding":{"x":{"field":"x","type":"quantitative","scale":{"domain":[0,30],"nice":false,"zero":false},
    "axis":{"orient":"bottom","values":[0,1,2,3,4,5,6,7,8,9,10,11,12,13,14,15,16,17,18,19,20,21,22,23,24,25,26,27,28,29,30],"labelExpr":"datum.value % 5 == 0 ? format(datum.value, 'd') : ''","tickSize":{"condition":{"test":"datum.value % 5 == 0","value":-27},"value":-13},"labelFontSize":40,"labelPadding":41,"title":null}},
   "y":{"field":"v","type":"quantitative","scale":{"type":"log","domain":[1e-11,5.13],"nice":false},
    "axis":{"orient":"left","values":[1e-11,2e-11,3e-11,4e-11,5e-11,6e-11,7e-11,8e-11,9e-11,1e-10,2e-10,3e-10,4e-10,5e-10,6e-10,7e-10,8e-10,9e-10,1e-9,2e-9,3e-9,4e-9,5e-9,6e-9,7e-9,8e-9,9e-9,1e-8,2e-8,3e-8,4e-8,5e-8,6e-8,7e-8,8e-8,9e-8,1e-7,2e-7,3e-7,4e-7,5e-7,6e-7,7e-7,8e-7,9e-7,1e-6,2e-6,3e-6,4e-6,5e-6,6e-6,7e-6,8e-6,9e-6,1e-5,2e-5,3e-5,4e-5,5e-5,6e-5,7e-5,8e-5,9e-5,1e-4,2e-4,3e-4,4e-4,5e-4,6e-4,7e-4,8e-4,9e-4,1e-3,2e-3,3e-3,4e-3,5e-3,6e-3,7e-3,8e-3,9e-3,1e-2,2e-2,3e-2,4e-2,5e-2,6e-2,7e-2,8e-2,9e-2,0.1,0.2,0.3,0.4,0.5,0.6,0.7,0.8,0.9,1,2,3,4,5],
     "labelExpr":"abs(log(datum.value)/LN10-round(log(datum.value)/LN10))>0.01 ? '' : round(log(datum.value)/LN10)==0 ? '1' : round(log(datum.value)/LN10)==1 ? '10' : '10'+(datum.value<1 ? '⁻' : '')+['⁰','¹','²','³','⁴','⁵','⁶','⁷','⁸','⁹','¹⁰','¹¹'][abs(round(log(datum.value)/LN10))]","tickSize":{"condition":{"test":"abs(log(datum.value)/LN10-round(log(datum.value)/LN10))<0.01","value":-29},"value":-15},"labelFontSize":43,"labelPadding":37,"title":null}},
   "color":{"field":"n","type":"nominal","scale":{"domain":[1,2,3,4,5],"range":["#000000","#ff0000","#0000ff","#990099","#009900"]},"legend":null},
   "strokeDash":{"field":"m","type":"nominal","scale":{"domain":["mon","cr","epos"],"range":[[13,11],[1,0],[26,12]]},
    "legend":{"orient":"none","legendX":309,"legendY":732,"title":null,"symbolType":"M-4.6,0H4.6","symbolSize":400,"symbolStrokeWidth":5,"symbolStrokeColor":"black","labelFontSize":37,"labelColor":"black","labelOffset":45,"rowPadding":15,"padding":0,
     "labelExpr":"datum.label == 'mon' ? 'PYTHIA 8 Monash 2013' : datum.label == 'cr' ? 'PYTHIA 8 QCD-CR + Ropes' : 'EPOS LHC'"}}}},
 {"data":{"name":"C"},"transform":[{"filter":"isValid(datum.lo)"}],"mark":{"type":"bar","filled":false,"width":16,"strokeWidth":3},
  "encoding":{"x":{"field":"x","type":"quantitative","axis":{"orient":"top","values":[0,1,2,3,4,5,6,7,8,9,10,11,12,13,14,15,16,17,18,19,20,21,22,23,24,25,26,27,28,29,30],"labels":false,"tickSize":{"condition":{"test":"datum.value % 5 == 0","value":-27},"value":-13},"title":null}},
   "y":{"field":"lo","type":"quantitative","axis":{"orient":"right","values":[1e-11,2e-11,3e-11,4e-11,5e-11,6e-11,7e-11,8e-11,9e-11,1e-10,2e-10,3e-10,4e-10,5e-10,6e-10,7e-10,8e-10,9e-10,1e-9,2e-9,3e-9,4e-9,5e-9,6e-9,7e-9,8e-9,9e-9,1e-8,2e-8,3e-8,4e-8,5e-8,6e-8,7e-8,8e-8,9e-8,1e-7,2e-7,3e-7,4e-7,5e-7,6e-7,7e-7,8e-7,9e-7,1e-6,2e-6,3e-6,4e-6,5e-6,6e-6,7e-6,8e-6,9e-6,1e-5,2e-5,3e-5,4e-5,5e-5,6e-5,7e-5,8e-5,9e-5,1e-4,2e-4,3e-4,4e-4,5e-4,6e-4,7e-4,8e-4,9e-4,1e-3,2e-3,3e-3,4e-3,5e-3,6e-3,7e-3,8e-3,9e-3,1e-2,2e-2,3e-2,4e-2,5e-2,6e-2,7e-2,8e-2,9e-2,0.1,0.2,0.3,0.4,0.5,0.6,0.7,0.8,0.9,1,2,3,4,5],"labels":false,"tickSize":{"condition":{"test":"abs(log(datum.value)/LN10-round(log(datum.value)/LN10))<0.01","value":-29},"value":-15},"title":null}},
   "y2":{"field":"hi"},"color":{"field":"n","type":"nominal","legend":null}}},
 {"data":{"name":"C"},"mark":{"type":"point","filled":true,"opacity":1,"fillOpacity":0.55,"strokeWidth":0,"size":400},
  "encoding":{"x":{"field":"x","type":"quantitative","axis":null},"y":{"field":"d","type":"quantitative","axis":null},"color":{"field":"n","type":"nominal","legend":null},
   "shape":{"field":"n","type":"nominal","scale":{"domain":[1,2,3,4,5],"range":["circle","square","M0,-1.35L0.62,0L0,1.35L-0.62,0Z","M-0.33,-1H0.33V-0.33H1V0.33H0.33V1H-0.33V0.33H-1V-0.33H-0.33Z","M-1,-0.6L-0.6,-1L0,-0.4L0.6,-1L1,-0.6L0.4,0L1,0.6L0.6,1L0,0.4L-0.6,1L-1,0.6L-0.4,0Z"]},"legend":null}}},
 {"data":{"name":"C"},"transform":[{"filter":"isValid(datum.a)"}],"mark":{"type":"point","filled":false,"opacity":0.6,"strokeWidth":2,"size":400},
  "encoding":{"x":{"field":"x","type":"quantitative","axis":null},"y":{"field":"a","type":"quantitative","axis":null},"color":{"field":"n","type":"nominal","legend":null},"shape":{"field":"n","type":"nominal","legend":null}}},
 {"data":{"name":"C"},"mark":{"type":"point","filled":false,"opacity":1,"shape":"M-1,0H1M0,-1V1","size":256,"strokeWidth":3.5},
  "encoding":{"x":{"field":"x","type":"quantitative","axis":null},"y":{"field":"d","type":"quantitative","axis":null},"color":{"field":"n","type":"nominal","legend":null}}},
 {"data":{"name":"LC"},"mark":{"type":"text","text":"⟨","align":"left","baseline":"middle","fontSize":42},"encoding":{"x":{"datum":23.1,"type":"quantitative","axis":null},"y":{"field":"y","type":"quantitative","axis":null},"color":{"field":"n","type":"nominal","legend":null}}},
 {"data":{"name":"LC"},"mark":{"type":"text","text":"Y","align":"left","baseline":"middle","fontSize":44,"fontWeight":"bold","dx":25},"encoding":{"x":{"datum":23.1,"type":"quantitative","axis":null},"y":{"field":"y","type":"quantitative","axis":null},"color":{"field":"n","type":"nominal","legend":null}}},
 {"data":{"name":"LC"},"mark":{"type":"text","align":"left","baseline":"middle","fontSize":27,"fontWeight":"bold","dx":53,"dy":21},"encoding":{"x":{"datum":23.1,"type":"quantitative","axis":null},"y":{"field":"y","type":"quantitative","axis":null},"color":{"field":"n","type":"nominal","legend":null},"text":{"field":"sub","type":"nominal"}}},
 {"data":{"name":"LC"},"mark":{"type":"text","text":"⟩","align":"left","baseline":"middle","fontSize":42,"dx":122},"encoding":{"x":{"datum":23.1,"type":"quantitative","axis":null},"y":{"field":"y","type":"quantitative","axis":null},"color":{"field":"n","type":"nominal","legend":null}}},
 {"data":{"values":[{}]},"mark":{"type":"text","text":"ALICE","align":"left","baseline":"middle","fontSize":41},"encoding":{"x":{"datum":2.6,"type":"quantitative","axis":null},"y":{"datum":1.1,"type":"quantitative","axis":null}}},
 {"data":{"values":[{}]},"mark":{"type":"text","text":"pp\u00a0\u00a0\u00a0√s = 5.02 TeV, |y| < 0.5","align":"left","baseline":"middle","fontSize":41},"encoding":{"x":{"datum":2.6,"type":"quantitative","axis":null},"y":{"datum":0.19,"type":"quantitative","axis":null}}},
 {"data":{"values":[{}]},"mark":{"type":"text","text":"full markers: particle","align":"left","baseline":"middle","fontSize":40},"encoding":{"x":{"datum":13.45,"type":"quantitative","axis":null},"y":{"datum":3.1e-8,"type":"quantitative","axis":null}}},
 {"data":{"values":[{}]},"mark":{"type":"text","text":"open markers: antiparticle","align":"left","baseline":"middle","fontSize":40},"encoding":{"x":{"datum":13.45,"type":"quantitative","axis":null},"y":{"datum":7.6e-9,"type":"quantitative","axis":null}}},
 {"data":{"values":[{}]},"mark":{"type":"text","text":"⟨ Y","angle":270,"align":"left","baseline":"middle","fontSize":50},"encoding":{"x":{"datum":-4.06,"type":"quantitative","axis":null},"y":{"datum":0.047,"type":"quantitative","axis":null}}},
 {"data":{"values":[{}]},"mark":{"type":"text","text":"n Ξ","angle":270,"align":"left","baseline":"middle","fontSize":34},"encoding":{"x":{"datum":-3.14,"type":"quantitative","axis":null},"y":{"datum":0.28,"type":"quantitative","axis":null}}},
 {"data":{"values":[{}]},"mark":{"type":"text","text":"⟩","angle":270,"align":"left","baseline":"middle","fontSize":50},"encoding":{"x":{"datum":-4.06,"type":"quantitative","axis":null},"y":{"datum":3.4,"type":"quantitative","axis":null}}},
 {"data":{"name":"XT"},"transform":[{"filter":"datum.k=='m'"}],"mark":{"type":"text","align":"left","baseline":"middle","fontSize":50},"encoding":{"x":{"field":"x","type":"quantitative","axis":null},"y":{"datum":7.7e-13,"type":"quantitative","axis":null},"text":{"field":"t","type":"nominal"}}},
 {"data":{"name":"XT"},"transform":[{"filter":"datum.k=='i'"}],"mark":{"type":"text","align":"left","baseline":"middle","fontSize":50,"fontStyle":"italic"},"encoding":{"x":{"field":"x","type":"quantitative","axis":null},"y":{"datum":7.7e-13,"type":"quantitative","axis":null},"text":{"field":"t","type":"nominal"}}},
 {"data":{"name":"XT"},"transform":[{"filter":"datum.k=='s'"}],"mark":{"type":"text","align":"left","baseline":"middle","fontSize":32},"encoding":{"x":{"field":"x","type":"quantitative","axis":null},"y":{"datum":3.1e-13,"type":"quantitative","axis":null},"text":{"field":"t","type":"nominal"}}},
 {"data":{"values":[{}]},"mark":{"type":"text","text":"(c)","align":"center","baseline":"middle","fontSize":38},"encoding":{"x":{"datum":14.2,"type":"quantitative","axis":null},"y":{"datum":6.8e-14,"type":"quantitative","axis":null}}},
 {"data":{"values":[{}]},"mark":{"type":"text","text":"ALI-PUB-612671","align":"left","baseline":"middle","fontSize":46,"font":"Liberation Mono","fontWeight":"bold","color":"#b4b4b4"},"encoding":{"x":{"datum":-5.02,"type":"quantitative","axis":null},"y":{"datum":6.0e-14,"type":"quantitative","axis":null}}}
 ]},
{"width":944,"height":914,"resolve":{"axis":{"x":"independent","y":"independent"}},
 "layer":[
 {"data":{"name":"D"},"transform":[{"fold":["mon","cr","epos"],"as":["m","v"]}],"mark":{"type":"line","strokeWidth":6},
  "encoding":{"x":{"field":"x","type":"quantitative","scale":{"domain":[0,30],"nice":false,"zero":false},
    "axis":{"orient":"bottom","values":[0,1,2,3,4,5,6,7,8,9,10,11,12,13,14,15,16,17,18,19,20,21,22,23,24,25,26,27,28,29,30],"labelExpr":"datum.value % 5 == 0 ? format(datum.value, 'd') : ''","tickSize":{"condition":{"test":"datum.value % 5 == 0","value":-27},"value":-13},"labelFontSize":40,"labelPadding":41,"title":null}},
   "y":{"field":"v","type":"quantitative","scale":{"type":"log","domain":[1e-11,5.13],"nice":false},
    "axis":{"orient":"left","values":[1e-11,2e-11,3e-11,4e-11,5e-11,6e-11,7e-11,8e-11,9e-11,1e-10,2e-10,3e-10,4e-10,5e-10,6e-10,7e-10,8e-10,9e-10,1e-9,2e-9,3e-9,4e-9,5e-9,6e-9,7e-9,8e-9,9e-9,1e-8,2e-8,3e-8,4e-8,5e-8,6e-8,7e-8,8e-8,9e-8,1e-7,2e-7,3e-7,4e-7,5e-7,6e-7,7e-7,8e-7,9e-7,1e-6,2e-6,3e-6,4e-6,5e-6,6e-6,7e-6,8e-6,9e-6,1e-5,2e-5,3e-5,4e-5,5e-5,6e-5,7e-5,8e-5,9e-5,1e-4,2e-4,3e-4,4e-4,5e-4,6e-4,7e-4,8e-4,9e-4,1e-3,2e-3,3e-3,4e-3,5e-3,6e-3,7e-3,8e-3,9e-3,1e-2,2e-2,3e-2,4e-2,5e-2,6e-2,7e-2,8e-2,9e-2,0.1,0.2,0.3,0.4,0.5,0.6,0.7,0.8,0.9,1,2,3,4,5],
     "labelExpr":"abs(log(datum.value)/LN10-round(log(datum.value)/LN10))>0.01 ? '' : round(log(datum.value)/LN10)==0 ? '1' : round(log(datum.value)/LN10)==1 ? '10' : '10'+(datum.value<1 ? '⁻' : '')+['⁰','¹','²','³','⁴','⁵','⁶','⁷','⁸','⁹','¹⁰','¹¹'][abs(round(log(datum.value)/LN10))]","tickSize":{"condition":{"test":"abs(log(datum.value)/LN10-round(log(datum.value)/LN10))<0.01","value":-29},"value":-15},"labelFontSize":43,"labelPadding":37,"title":null}},
   "color":{"field":"n","type":"nominal","scale":{"domain":[1,2,3,4,5],"range":["#000000","#ff0000","#0000ff","#990099","#009900"]},"legend":null},
   "strokeDash":{"field":"m","type":"nominal","scale":{"domain":["mon","cr","epos"],"range":[[13,11],[1,0],[26,12]]},
    "legend":{"orient":"none","legendX":309,"legendY":732,"title":null,"symbolType":"M-4.6,0H4.6","symbolSize":400,"symbolStrokeWidth":5,"symbolStrokeColor":"black","labelFontSize":37,"labelColor":"black","labelOffset":45,"rowPadding":15,"padding":0,
     "labelExpr":"datum.label == 'mon' ? 'PYTHIA 8 Monash 2013' : datum.label == 'cr' ? 'PYTHIA 8 QCD-CR + Ropes' : 'EPOS LHC'"}}}},
 {"data":{"name":"D"},"transform":[{"filter":"isValid(datum.lo)"}],"mark":{"type":"bar","filled":false,"width":16,"strokeWidth":3},
  "encoding":{"x":{"field":"x","type":"quantitative","axis":{"orient":"top","values":[0,1,2,3,4,5,6,7,8,9,10,11,12,13,14,15,16,17,18,19,20,21,22,23,24,25,26,27,28,29,30],"labels":false,"tickSize":{"condition":{"test":"datum.value % 5 == 0","value":-27},"value":-13},"title":null}},
   "y":{"field":"lo","type":"quantitative","axis":{"orient":"right","values":[1e-11,2e-11,3e-11,4e-11,5e-11,6e-11,7e-11,8e-11,9e-11,1e-10,2e-10,3e-10,4e-10,5e-10,6e-10,7e-10,8e-10,9e-10,1e-9,2e-9,3e-9,4e-9,5e-9,6e-9,7e-9,8e-9,9e-9,1e-8,2e-8,3e-8,4e-8,5e-8,6e-8,7e-8,8e-8,9e-8,1e-7,2e-7,3e-7,4e-7,5e-7,6e-7,7e-7,8e-7,9e-7,1e-6,2e-6,3e-6,4e-6,5e-6,6e-6,7e-6,8e-6,9e-6,1e-5,2e-5,3e-5,4e-5,5e-5,6e-5,7e-5,8e-5,9e-5,1e-4,2e-4,3e-4,4e-4,5e-4,6e-4,7e-4,8e-4,9e-4,1e-3,2e-3,3e-3,4e-3,5e-3,6e-3,7e-3,8e-3,9e-3,1e-2,2e-2,3e-2,4e-2,5e-2,6e-2,7e-2,8e-2,9e-2,0.1,0.2,0.3,0.4,0.5,0.6,0.7,0.8,0.9,1,2,3,4,5],"labels":false,"tickSize":{"condition":{"test":"abs(log(datum.value)/LN10-round(log(datum.value)/LN10))<0.01","value":-29},"value":-15},"title":null}},
   "y2":{"field":"hi"},"color":{"field":"n","type":"nominal","legend":null}}},
 {"data":{"name":"D"},"mark":{"type":"point","filled":true,"opacity":1,"fillOpacity":0.55,"strokeWidth":0,"size":400},
  "encoding":{"x":{"field":"x","type":"quantitative","axis":null},"y":{"field":"d","type":"quantitative","axis":null},"color":{"field":"n","type":"nominal","legend":null},
   "shape":{"field":"n","type":"nominal","scale":{"domain":[1,2,3,4,5],"range":["circle","square","M0,-1.35L0.62,0L0,1.35L-0.62,0Z","M-0.33,-1H0.33V-0.33H1V0.33H0.33V1H-0.33V0.33H-1V-0.33H-0.33Z","M-1,-0.6L-0.6,-1L0,-0.4L0.6,-1L1,-0.6L0.4,0L1,0.6L0.6,1L0,0.4L-0.6,1L-1,0.6L-0.4,0Z"]},"legend":null}}},
 {"data":{"name":"D"},"transform":[{"filter":"isValid(datum.a)"}],"mark":{"type":"point","filled":false,"opacity":0.6,"strokeWidth":2,"size":400},
  "encoding":{"x":{"field":"x","type":"quantitative","axis":null},"y":{"field":"a","type":"quantitative","axis":null},"color":{"field":"n","type":"nominal","legend":null},"shape":{"field":"n","type":"nominal","legend":null}}},
 {"data":{"name":"D"},"mark":{"type":"point","filled":false,"opacity":1,"shape":"M-1,0H1M0,-1V1","size":256,"strokeWidth":3.5},
  "encoding":{"x":{"field":"x","type":"quantitative","axis":null},"y":{"field":"d","type":"quantitative","axis":null},"color":{"field":"n","type":"nominal","legend":null}}},
 {"data":{"name":"LD"},"mark":{"type":"text","text":"⟨","align":"left","baseline":"middle","fontSize":42},"encoding":{"x":{"datum":23.1,"type":"quantitative","axis":null},"y":{"field":"y","type":"quantitative","axis":null},"color":{"field":"n","type":"nominal","legend":null}}},
 {"data":{"name":"LD"},"mark":{"type":"text","text":"Y","align":"left","baseline":"middle","fontSize":44,"fontWeight":"bold","dx":25},"encoding":{"x":{"datum":23.1,"type":"quantitative","axis":null},"y":{"field":"y","type":"quantitative","axis":null},"color":{"field":"n","type":"nominal","legend":null}}},
 {"data":{"name":"LD"},"mark":{"type":"text","align":"left","baseline":"middle","fontSize":27,"fontWeight":"bold","dx":53,"dy":21},"encoding":{"x":{"datum":23.1,"type":"quantitative","axis":null},"y":{"field":"y","type":"quantitative","axis":null},"color":{"field":"n","type":"nominal","legend":null},"text":{"field":"sub","type":"nominal"}}},
 {"data":{"name":"LD"},"mark":{"type":"text","text":"⟩","align":"left","baseline":"middle","fontSize":42,"dx":122},"encoding":{"x":{"datum":23.1,"type":"quantitative","axis":null},"y":{"field":"y","type":"quantitative","axis":null},"color":{"field":"n","type":"nominal","legend":null}}},
 {"data":{"values":[{}]},"mark":{"type":"text","text":"ALICE","align":"left","baseline":"middle","fontSize":41},"encoding":{"x":{"datum":2.6,"type":"quantitative","axis":null},"y":{"datum":1.1,"type":"quantitative","axis":null}}},
 {"data":{"values":[{}]},"mark":{"type":"text","text":"pp\u00a0\u00a0\u00a0√s = 5.02 TeV, |y| < 0.5","align":"left","baseline":"middle","fontSize":41},"encoding":{"x":{"datum":2.6,"type":"quantitative","axis":null},"y":{"datum":0.19,"type":"quantitative","axis":null}}},
 {"data":{"values":[{}]},"mark":{"type":"text","text":"full markers: particle","align":"left","baseline":"middle","fontSize":40},"encoding":{"x":{"datum":13.45,"type":"quantitative","axis":null},"y":{"datum":3.1e-8,"type":"quantitative","axis":null}}},
 {"data":{"values":[{}]},"mark":{"type":"text","text":"open markers: antiparticle","align":"left","baseline":"middle","fontSize":40},"encoding":{"x":{"datum":13.45,"type":"quantitative","axis":null},"y":{"datum":7.6e-9,"type":"quantitative","axis":null}}},
 {"data":{"values":[{}]},"mark":{"type":"text","text":"⟨ Y","angle":270,"align":"left","baseline":"middle","fontSize":50},"encoding":{"x":{"datum":-4.06,"type":"quantitative","axis":null},"y":{"datum":0.04,"type":"quantitative","axis":null}}},
 {"data":{"values":[{}]},"mark":{"type":"text","text":"n Ω","angle":270,"align":"left","baseline":"middle","fontSize":34},"encoding":{"x":{"datum":-3.14,"type":"quantitative","axis":null},"y":{"datum":0.26,"type":"quantitative","axis":null}}},
 {"data":{"values":[{}]},"mark":{"type":"text","text":"⟩","angle":270,"align":"left","baseline":"middle","fontSize":50},"encoding":{"x":{"datum":-4.06,"type":"quantitative","axis":null},"y":{"datum":3.35,"type":"quantitative","axis":null}}},
 {"data":{"name":"XT"},"transform":[{"filter":"datum.k=='m'"}],"mark":{"type":"text","align":"left","baseline":"middle","fontSize":50},"encoding":{"x":{"field":"x","type":"quantitative","axis":null},"y":{"datum":7.7e-13,"type":"quantitative","axis":null},"text":{"field":"t","type":"nominal"}}},
 {"data":{"name":"XT"},"transform":[{"filter":"datum.k=='i'"}],"mark":{"type":"text","align":"left","baseline":"middle","fontSize":50,"fontStyle":"italic"},"encoding":{"x":{"field":"x","type":"quantitative","axis":null},"y":{"datum":7.7e-13,"type":"quantitative","axis":null},"text":{"field":"t","type":"nominal"}}},
 {"data":{"name":"XT"},"transform":[{"filter":"datum.k=='s'"}],"mark":{"type":"text","align":"left","baseline":"middle","fontSize":32},"encoding":{"x":{"field":"x","type":"quantitative","axis":null},"y":{"datum":3.1e-13,"type":"quantitative","axis":null},"text":{"field":"t","type":"nominal"}}},
 {"data":{"values":[{}]},"mark":{"type":"text","text":"(d)","align":"center","baseline":"middle","fontSize":38},"encoding":{"x":{"datum":14.2,"type":"quantitative","axis":null},"y":{"datum":6.8e-14,"type":"quantitative","axis":null}}}
 ]}
]
}
